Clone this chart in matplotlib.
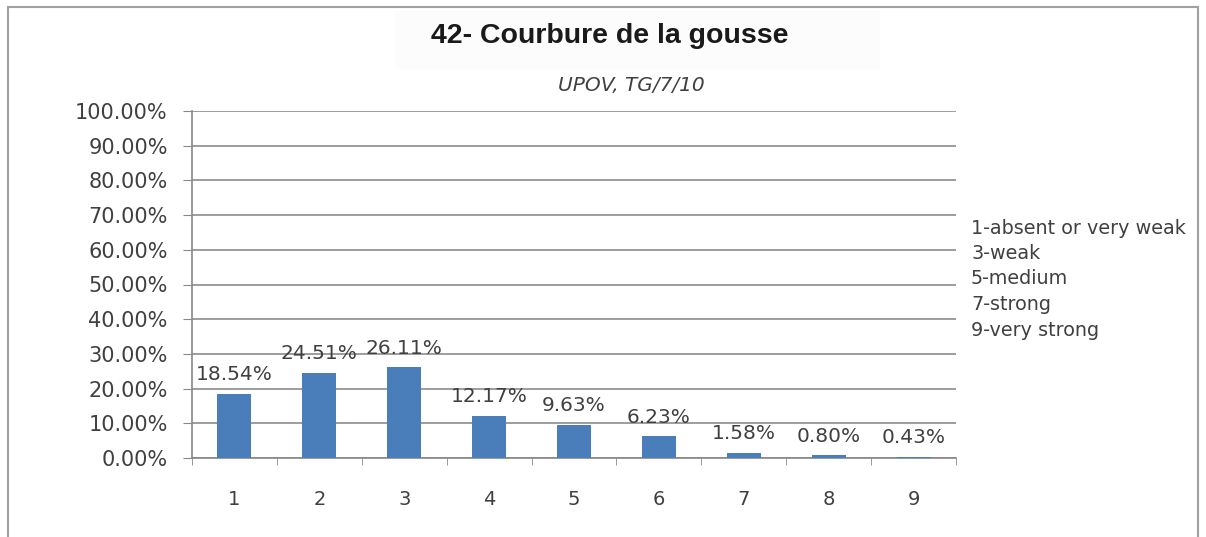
import matplotlib.pyplot as plt
from matplotlib.patches import Rectangle

categories = ['1', '2', '3', '4', '5', '6', '7', '8', '9']
values = [18.54, 24.51, 26.11, 12.17, 9.63, 6.23, 1.58, 0.80, 0.43]
yticks = [0, 10, 20, 30, 40, 50, 60, 70, 80, 90, 100]
legend_lines = ['1-absent or very weak', '3-weak', '5-medium', '7-strong', '9-very strong']

plt.rcParams['font.family'] = ['DejaVu Sans']
W, H = 1206, 537

fig = plt.figure(figsize=(W / 100, H / 100), dpi=100)
ax = fig.add_axes([192 / W, 1 - 458 / H, 764 / W, 347 / H])

x = list(range(1, len(values) + 1))
ax.bar(x, values, width=0.40, color='#4a7ebb', zorder=3)
for xi, v in zip(x, values):
    ax.text(xi, v + 2.8, f'{v:.2f}%', ha='center', va='bottom', fontsize=14.5, color='#404040')

ax.set_xlim(0.5, 9.5)
ax.set_ylim(0, 100)
ax.set_yticks(yticks)
ax.set_yticklabels([f'{t:.2f}%' for t in yticks], fontsize=15, color='#404040')
ax.set_xticks(x)
ax.set_xticklabels(categories, fontsize=14, color='#404040')
ax.set_xticks([i + 0.5 for i in range(0, 10)], minor=True)
ax.tick_params(axis='x', which='major', length=0, pad=23)
ax.tick_params(axis='x', which='minor', length=5, color='#888888', direction='out')
ax.tick_params(axis='y', length=6.5, color='#888888', pad=11)
ax.grid(axis='y', color='#8c8c8c', linewidth=1.2, zorder=0)
for s in ['top', 'right']:
    ax.spines[s].set_visible(False)
for s in ['left', 'bottom']:
    ax.spines[s].set_color('#888888')
    ax.spines[s].set_linewidth(1.2)

# title with faint background
fig.patches.append(Rectangle((395 / W, 1 - 70 / H), 485 / W, 60 / H, transform=fig.transFigure,
                             facecolor='#fcfcfc', edgecolor='none'))
fig.text(610 / W, 1 - 36 / H, '42- Courbure de la gousse', ha='center', va='center',
         fontsize=20.5, fontweight='bold', family=['Liberation Sans', 'DejaVu Sans'], color='#1a1a1a')
fig.text(631 / W, 1 - 86 / H, 'UPOV, TG/7/10', ha='center', va='center',
         fontsize=14.5, style='italic', color='#404040')

for i, t in enumerate(legend_lines):
    fig.text(971 / W, 1 - (228 + 25.5 * i) / H, t, ha='left', va='center',
             fontsize=13.8, color='#404040')

# outer frame
fig.patches.append(Rectangle((8 / W, -0.1), 1190 / W, 1 - 7 / H + 0.1,
                             transform=fig.transFigure, facecolor='none',
                             edgecolor='#a0a0a0', linewidth=1.5))

fig.savefig('out.png', dpi=100)
